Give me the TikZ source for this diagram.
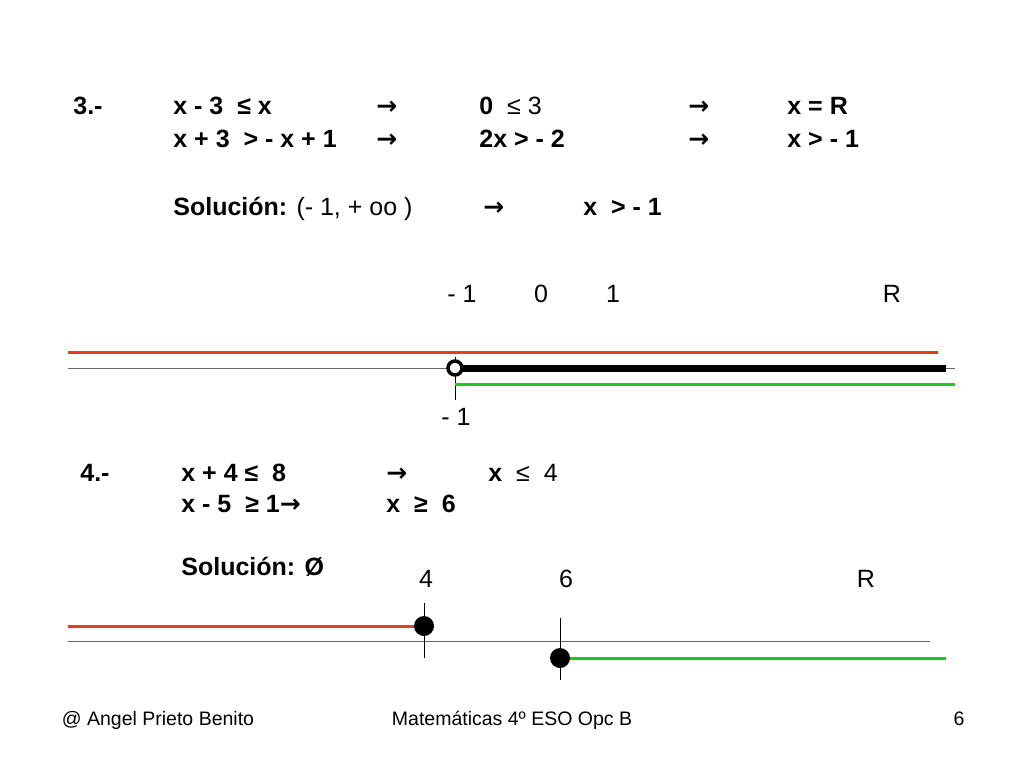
\documentclass[tikz,border=0pt]{standalone}
\usepackage{fontspec}
\setmainfont{Liberation Sans}
\newfontfamily\arrowfont{DejaVu Sans}
\newcommand{\rarr}{{\arrowfont\bfseries →}}
\definecolor{redline}{RGB}{230,60,30}
\definecolor{greenline}{RGB}{30,200,30}
\tikzset{every picture/.style={line width=0.75pt}}
\tikzset{
  txt/.style={anchor=base west,inner sep=0pt,font=\fontsize{25}{30}\selectfont},
  lbl/.style={anchor=base,inner sep=0pt,font=\fontsize{25}{30}\selectfont},
  foot/.style={anchor=base,inner sep=0pt,font=\fontsize{19.5}{23}\selectfont},
  axisline/.style={draw=gray!80!black,line width=1pt},
}
\begin{document}
\begin{tikzpicture}[x=1pt,y=1pt,yscale=-1,xscale=1]
		\useasboundingbox (0,0) rectangle (1024,768);
		
		% Text Node
		\node (n3) [txt] at (73,114) {\bfseries 3.-};
		\node (a1) [txt] at (173,114) {\bfseries x - 3 \ ≤ x};
		\node (r1) [txt] at (376,114) {\rarr};
		\node (b1) [txt] at (479,114) {\textbf{0} \ ≤ 3};
		\node (s1) [txt] at (688,114) {\rarr};
		\node (c1) [txt] at (787,114) {\bfseries x = R};
		\node (a2) [txt] at (173,147) {\bfseries x + 3 \ > - x + 1};
		\node (r2) [txt] at (376,147) {\rarr};
		\node (b2) [txt] at (479,147) {\bfseries 2x > - 2};
		\node (s2) [txt] at (688,147) {\rarr};
		\node (c2) [txt] at (787,147) {\bfseries x > - 1};
		\node (sol3) [txt] at (173,215) {\textbf{Solución:} (- 1, + oo )};
		\node (r3) [txt] at (483,215) {\rarr};
		\node (c3) [txt] at (583,215) {\bfseries x \ > - 1};
		
		\node (lm1) [lbl] at (462,302) {- 1};
		\node (l0) [lbl] at (541,302) {0};
		\node (l1) [lbl] at (613,302) {1};
		\node (lR) [lbl] at (892,302) {R};
		
		%Straight Lines
		\draw [redline,line width=3pt] (68,352) -- (938,352);
		\draw [axisline] (68,368) -- (955,368);
		\draw [line width=1pt] (455,357) -- (455,400);
		\draw [line width=7pt] (455,368) -- (946,368);
		\draw [greenline,line width=3pt] (455,384) -- (955,384);
		\draw [line width=3.5pt,fill=white] (455,368) circle (7);
		\node (lm1b) [lbl] at (456,425) {- 1};
		
		% Text Node
		\node (n4) [txt] at (80,481) {\bfseries 4.-};
		\node (a4) [txt] at (181,481) {\bfseries x + 4 ≤ \ 8};
		\node (r4) [txt] at (386,481) {\rarr};
		\node (b4) [txt] at (488,481) {\textbf{x} \ ≤ \ 4};
		\node (a5) [txt] at (181,512) {\bfseries x - 5 \ ≥ 1\rarr};
		\node (b5) [txt] at (386,512) {\bfseries x \ ≥ \ 6};
		\node (sol4) [txt] at (181,575) {\bfseries Solución: Ø};
		
		\node (l4) [lbl] at (426,587) {4};
		\node (l6) [lbl] at (566,587) {6};
		\node (lR4) [lbl] at (866,587) {R};
		
		%Straight Lines
		\draw [redline,line width=3pt] (68,626) -- (424,626);
		\draw [axisline] (68,641) -- (930,641);
		\draw [line width=1pt] (424,603) -- (424,658);
		\draw [line width=1pt] (560,618) -- (560,680);
		\draw [greenline,line width=3pt] (560,658) -- (946,658);
		\fill (424,626) circle (10);
		\fill (560,658) circle (10);
		
		% Footer
		\node (f1) [foot] at (158,725) {@ Angel Prieto Benito};
		\node (f2) [foot] at (512,725) {Matemáticas 4º ESO Opc B};
		\node (f3) [foot] at (959,725) {6};
\end{tikzpicture}
\end{document}
